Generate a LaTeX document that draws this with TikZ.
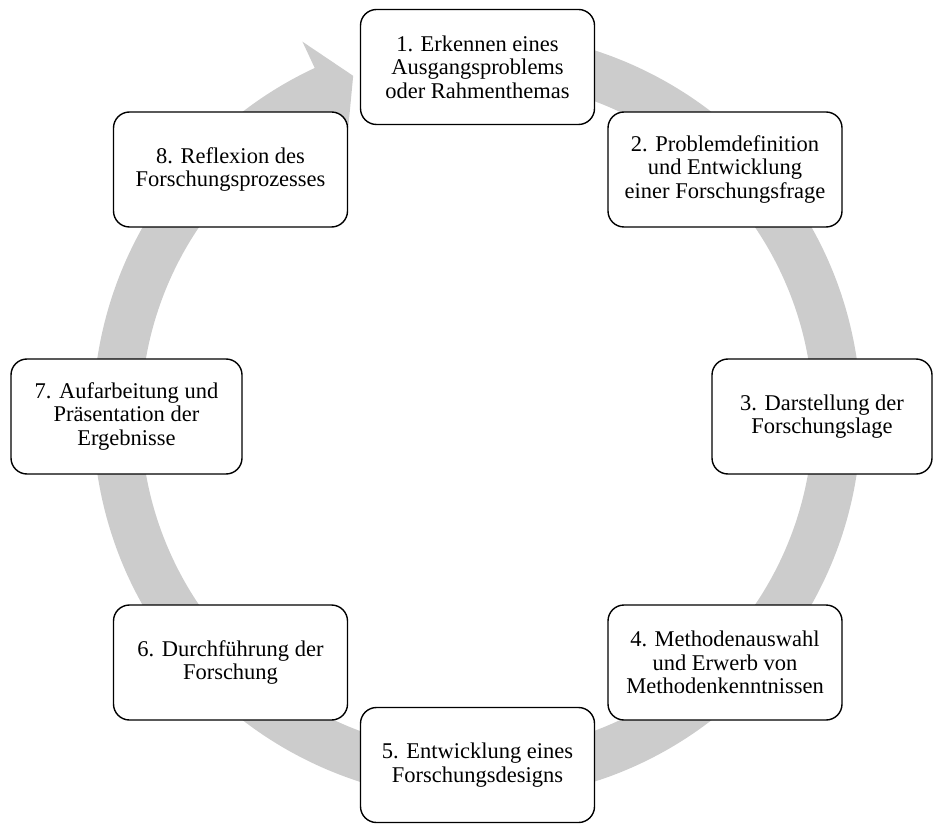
\documentclass[tikz,border=0pt]{standalone}
\usepackage{fontspec}
\setmainfont{Liberation Serif}
\definecolor{ringgray}{RGB}{204,204,204}
\tikzset{
  stepbox/.style={draw=black, fill=white, line width=1.4pt, rounded corners=16pt,
    minimum width=234pt, minimum height=115pt, inner sep=0pt, align=center,
    font=\fontsize{22.5}{23.5}\selectfont},
  ring/.style={fill=ringgray}
}
\begin{document}
\begin{tikzpicture}[x=1pt,y=1pt]
\useasboundingbox (0,0) rectangle (933,823);
\coordinate (C) at (477,407);
% circular arrow
\begin{scope}[shift={(C)}]
\fill[ring] (100:384) arc[start angle=100, end angle=-245, radius=384]
  -- (115:413) -- (110:362) -- (115:307) -- (115:336)
  arc[start angle=115, end angle=460, radius=336] -- cycle;
\end{scope}
% boxes
\node[stepbox] (s1) at (477.5,756) {1. Erkennen eines\\Ausgangsproblems\\oder Rahmenthemas};
\node[stepbox] (s2) at (725,653.5) {2. Problemdefinition\\und Entwicklung\\einer Forschungsfrage};
\node[stepbox, minimum width=220pt] (s3) at (822,406.5) {3. Darstellung der\\Forschungslage};
\node[stepbox] (s4) at (725,160.5) {4. Methodenauswahl\\und Erwerb von\\Methodenkenntnissen};
\node[stepbox] (s5) at (477.5,58) {5. Entwicklung eines\\Forschungsdesigns};
\node[stepbox] (s6) at (230.5,160.5) {6. Durchführung der\\Forschung};
\node[stepbox, minimum width=231pt] (s7) at (126.5,406.5) {7. Aufarbeitung und\\Präsentation der\\Ergebnisse};
\node[stepbox] (s8) at (230.5,653.5) {8. Reflexion des\\Forschungsprozesses};
\end{tikzpicture}
\end{document}
